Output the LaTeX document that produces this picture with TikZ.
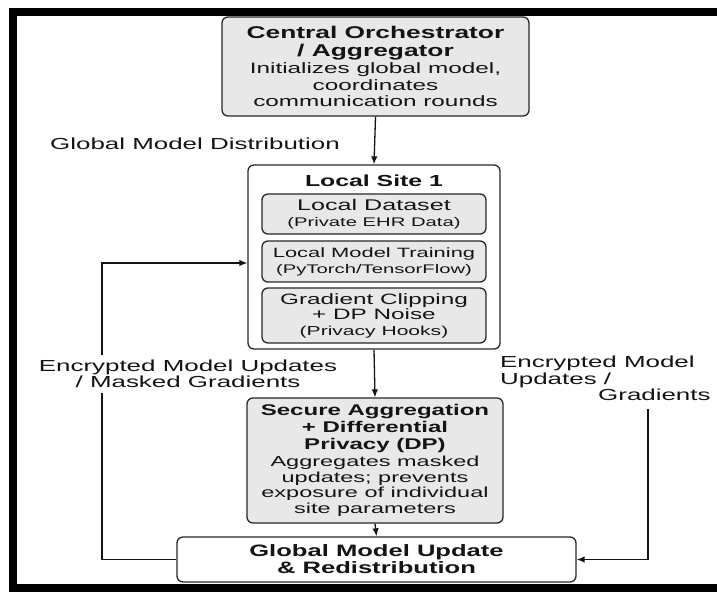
\documentclass[tikz,border=0pt]{standalone}
\usepackage{fontspec}
\setmainfont{Liberation Sans}[FakeStretch=1.62]
\newfontfamily\hdfont{Liberation Sans}[FakeStretch=1.55]
\usetikzlibrary{arrows.meta}

\definecolor{boxgray}{RGB}{232,232,232}
\definecolor{edgecol}{RGB}{40,40,40}
\definecolor{inkcol}{RGB}{20,20,20}

% font size helper: size / baselineskip in pt
\newcommand\fsz[2]{\fontsize{#1}{#2}\selectfont}
\newcommand\hd{\hdfont\bfseries}

\begin{document}
\begin{tikzpicture}[x=1pt, y=-1pt,
  every node/.style={inner sep=0pt, text=inkcol},
  grayblock/.style={draw=edgecol, line width=1.3pt, rounded corners=6pt, fill=boxgray, align=center},
  whiteblock/.style={draw=edgecol, line width=1.3pt, rounded corners=6pt, fill=white, align=center},
  conn/.style={draw=inkcol, line width=1.3pt, -{Latex[length=8pt, width=6.5pt]}},
  lbl/.style={font=\fsz{16}{16.5}}
]
\useasboundingbox (0,0) rectangle (717,592);
\fill[white] (0,0) rectangle (717,592);
\begin{scope}
  \clip (0,0) rectangle (717,592);
  % outer black frame (left, top and bottom sides inside the page)
  \draw[line width=8pt, black] (13,12) rectangle (760,588);
\end{scope}

% central orchestrator
\node[grayblock, minimum width=307pt, minimum height=99pt, font=\fsz{15}{16.5}] (orch) at (375.5,66.5)
  {{\hd\fsz{17}{18}Central Orchestrator}\\[1pt]
   {\hd\fsz{17}{18}/ Aggregator}\\[1pt]
   Initializes global model,\\ coordinates\\ communication rounds};

\node[lbl, anchor=west] (gmd) at (50,144) {Global Model Distribution};

% local site with its three stages
\node[whiteblock, minimum width=252pt, minimum height=184pt] (site) at (374,257) {};
\node[font=\hd\fsz{16}{17}] (sitetitle) at (374,181) {Local Site 1};
\node[grayblock, minimum width=224pt, minimum height=40pt, font=\fsz{12.5}{16}] (data) at (374,214)
  {{\fsz{15.5}{16}Local Dataset}\\ (Private EHR Data)};
\node[grayblock, minimum width=224pt, minimum height=41pt, font=\fsz{12.5}{16}] (train) at (374,261.5)
  {{\fsz{13.5}{16}Local Model Training}\\ (PyTorch/TensorFlow)};
\node[grayblock, minimum width=224pt, minimum height=55pt, font=\fsz{13}{15.5}] (clip) at (374,315.5)
  {{\fsz{15}{15.5}Gradient Clipping}\\ {\fsz{15}{15.5}+ DP Noise}\\ (Privacy Hooks)};

% secure aggregation
\node[grayblock, minimum width=256pt, minimum height=125pt, font=\fsz{14.5}{15.5}] (secagg) at (375,460.5)
  {{\hd\fsz{15.5}{17.5}Secure Aggregation}\\[1.5pt]
   {\hd\fsz{15.5}{17.5}+ Differential}\\[1.5pt]
   {\hd\fsz{15.5}{17.5}Privacy (DP)}\\[1.5pt]
   Aggregates masked\\ updates; prevents\\ exposure of individual\\ site parameters};

% global update
\node[whiteblock, minimum width=399pt, minimum height=45pt, font=\hd\fsz{16.5}{17}] (glob) at (376.5,559.5)
  {Global Model Update\\ \& Redistribution};

% main flow
\draw[conn] (orch.south) -- (site.north);
\draw[conn] (site.south) -- (secagg.north);
\draw[conn] (secagg.south) -- (glob.north);

% feedback loop on the left
\coordinate (ltop) at (102,263);
\draw[conn] (glob.west) -| (ltop) -- (ltop -| site.west);
\node[lbl, align=center, fill=white, inner xsep=2pt, inner ysep=5pt] (leftlbl) at (188,374)
  {Encrypted Model Updates\\ / Masked Gradients};

% encrypted updates on the right
\node[lbl, align=left, anchor=north west] (rightlbl) at (500,356)
  {Encrypted Model\\ Updates /\\ \hspace*{98pt}Gradients};
\coordinate (rtop) at (648,409);
\draw[conn] (rtop) |- (glob.east);
\end{tikzpicture}
\end{document}
